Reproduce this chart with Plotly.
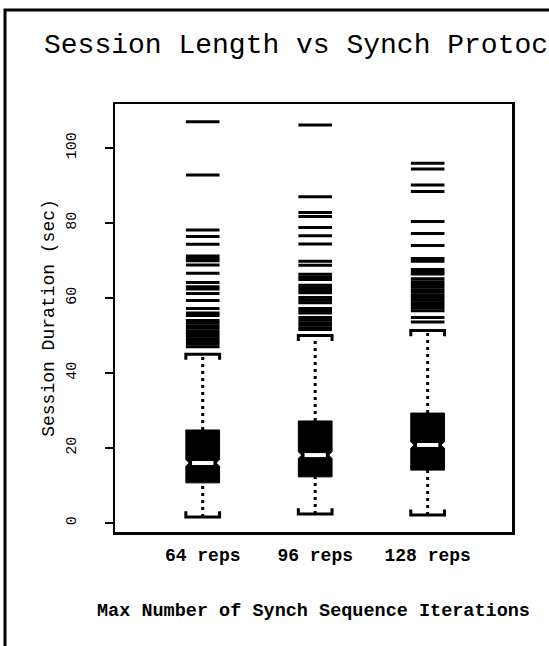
import plotly.graph_objects as go

# ---------------- data ----------------
categories = ["64 reps", "96 reps", "128 reps"]
positions = [1, 2, 3]
q1_vals = [10.7, 12.3, 14.1]
median_vals = [16.0, 18.1, 20.8]
q3_vals = [24.8, 27.2, 29.3]
lower_whisker = [1.6, 2.4, 2.1]
upper_whisker = [45.0, 50.0, 51.3]
notch_half = [0.9, 0.9, 0.9]

outliers_64 = [47.0, 47.7, 48.4, 49.1, 49.8, 50.5, 51.2, 51.9, 52.6, 53.3, 54.0,
               55.3, 56.0, 57.2, 59.3, 61.2, 62.4, 63.0, 64.1, 66.6,
               68.8, 69.9, 70.5, 71.2, 74.3, 76.4, 78.1, 92.8, 107.0]
outliers_96 = [51.6, 52.0, 52.7, 53.4, 54.1, 54.8, 56.0, 56.5, 57.2, 58.7, 59.4, 60.1,
               61.4, 62.0, 62.7, 63.4, 64.9, 65.6, 66.3, 68.7, 69.8,
               74.4, 76.6, 78.8, 81.7, 82.8, 87.0, 106.1]
outliers_128 = [53.6, 54.8, 56.6, 57.3, 58.0, 58.7, 59.4, 60.1, 60.8, 61.5, 62.2, 62.9,
                63.6, 64.3, 65.1, 66.4, 66.9, 67.6, 69.8, 70.5,
                74.0, 77.2, 80.4, 88.4, 90.1, 94.4, 95.9]
outliers = [outliers_64, outliers_96, outliers_128]

y_tick_vals = [0, 20, 40, 60, 80, 100]

title_text = "Session Length vs Synch Protoc"
x_title = "Max Number of Synch Sequence Iterations"
y_title = "Session Duration (sec)"

# ---------------- style ----------------
BOX_W = 0.30
HALF = BOX_W / 2
CAP_LEG = 1.5
MED_HALF = 0.095
DASH_SIZE = 24
MONO = "Liberation Mono, Courier New, monospace"

fig = go.Figure()

# box bodies (notched, black)
fig.add_trace(go.Box(
    x=positions, q1=q1_vals, median=median_vals, q3=q3_vals,
    lowerfence=q1_vals, upperfence=q3_vals,
    notched=True, notchspan=notch_half, notchwidth=0.1,
    width=BOX_W, whiskerwidth=0, boxpoints=False,
    fillcolor="black", line=dict(color="black", width=1),
    showlegend=False, hoverinfo="skip",
))

# dotted whiskers
wx, wy = [], []
for p, a, b, c, d in zip(positions, lower_whisker, q1_vals, q3_vals, upper_whisker):
    wx += [p, p, None, p, p, None]
    wy += [a, b, None, c, d, None]
fig.add_trace(go.Scatter(x=wx, y=wy, mode="lines",
                         line=dict(color="black", width=3, dash="3px,4px"),
                         showlegend=False, hoverinfo="skip"))

# bracket caps
cx, cy = [], []
for p, lo, up in zip(positions, lower_whisker, upper_whisker):
    cx += [p - HALF, p - HALF, p + HALF, p + HALF, None]
    cy += [lo + CAP_LEG, lo, lo, lo + CAP_LEG, None]
    cx += [p - HALF, p - HALF, p + HALF, p + HALF, None]
    cy += [up - CAP_LEG, up, up, up - CAP_LEG, None]
fig.add_trace(go.Scatter(x=cx, y=cy, mode="lines",
                         line=dict(color="black", width=3),
                         showlegend=False, hoverinfo="skip"))

# white medians
mx, my = [], []
for p, m in zip(positions, median_vals):
    mx += [p - MED_HALF, p + MED_HALF, None]
    my += [m, m, None]
fig.add_trace(go.Scatter(x=mx, y=my, mode="lines",
                         line=dict(color="white", width=4),
                         showlegend=False, hoverinfo="skip"))

# outliers as horizontal dashes
for p, vals in zip(positions, outliers):
    fig.add_trace(go.Scatter(
        x=[p] * len(vals), y=vals, mode="markers",
        marker=dict(symbol="line-ew", size=DASH_SIZE, color="black",
                    line=dict(color="black", width=3)),
        showlegend=False, hoverinfo="skip"))

fig.update_layout(
    width=549, height=646,
    margin=dict(l=115, r=37, t=104, b=114),
    paper_bgcolor="white", plot_bgcolor="white",
    title=dict(text=title_text, x=44 / 549, xanchor="left", xref="container",
               y=1 - 43 / 646, yanchor="middle", yref="container",
               font=dict(family=MONO, size=28, color="black")),
    shapes=[dict(type="rect", xref="paper", yref="paper",
                 x0=(5 - 115) / 397, x1=(600 - 115) / 397,
                 y0=(532 - 700) / 428, y1=(532 - 10) / 428,
                 line=dict(color="black", width=3), layer="below")],
)

fig.update_xaxes(
    range=[0.22, 3.75], tickvals=positions, ticktext=categories,
    showline=True, mirror=True, linecolor="black", linewidth=2.5,
    ticks="", showgrid=False, zeroline=False, ticklabelstandoff=5,
    tickfont=dict(family=MONO, size=18, color="black", weight="bold"),
    title=dict(text=x_title, standoff=38,
               font=dict(family=MONO, size=18.5, color="black", weight="bold")),
)
fig.update_yaxes(
    range=[-2.4, 111.7], tickvals=y_tick_vals, tickangle=-90,
    showline=True, mirror=True, linecolor="black", linewidth=2.5,
    ticks="outside", ticklen=8, tickwidth=2.5, tickcolor="black",
    showgrid=False, zeroline=False, ticklabelstandoff=23,
    tickfont=dict(family=MONO, size=15, color="black"),
    title=dict(text=y_title, standoff=4,
               font=dict(family=MONO, size=18, color="black")),
)

fig.write_html("out.html", config={"displayModeBar": False, "staticPlot": True},
               post_script="document.body.style.margin='0';")
